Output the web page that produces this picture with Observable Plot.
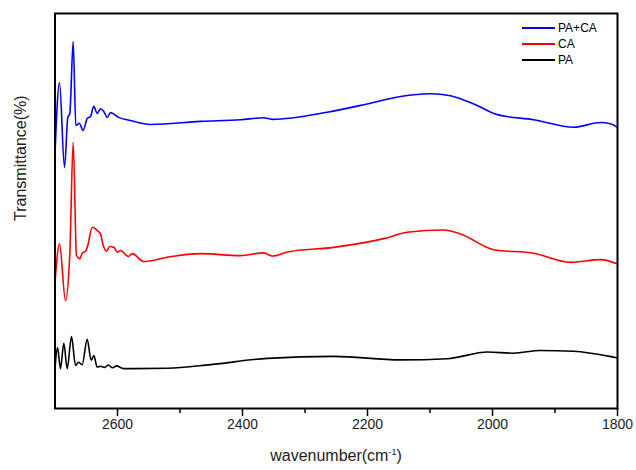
<!DOCTYPE html>
<html>
<head>
<meta charset="utf-8">
<script src="https://cdn.jsdelivr.net/npm/d3@7"></script>
<script src="https://cdn.jsdelivr.net/npm/@observablehq/plot@0.6"></script>
<style>
  body { margin: 0; background: #fff; font-family: "Liberation Sans", Arial, sans-serif; }
  #wrap { position: relative; width: 636px; height: 470px; }
  .legend { position: absolute; left: 522px; top: 20px; font-size: 12px; color: #000; }
  .legend div { display: flex; align-items: center; height: 16px; }
  .legend span.sw { display: inline-block; width: 33px; height: 2px; margin-right: 3px; }
  .xlabel { position: absolute; left: 0; width: 672px; top: 447px; text-align: center; font-size: 16px; color: #222; }
  .xlabel sup { font-size: 9px; }
</style>
</head>
<body>
<div id="wrap"></div>
<script>
// series: wavenumber (cm-1) and transmittance (arbitrary, offset)
const paCaWn = [2700,2692.8,2684.8,2679.5,2676.3,2670.9,2666.7,2661.3,2654.9,2648.5,2643.2,2637.9,2632.5,2627.2,2621.9,2616.5,2611.2,2598.4,2579.2,2547.2,2467.2,2403.2,2366.4,2352.5,2264.5,2200.5,2147.2,2099.2,2067.2,2029.9,1992.5,1933.9,1869.9,1827.2,1811.2,1800];
const paCaT  = [64.8,82.5,61.0,73.7,74.7,92.9,71.6,72.2,70.4,73.4,73.9,76.5,74.7,75.9,75.2,73.7,74.9,73.7,72.9,71.9,72.7,73.1,73.6,73.2,75.0,77.1,79.0,79.7,79.2,77.1,74.4,73.1,71.2,72.4,72.1,71.1];

const caWn = [2700,2692.8,2683.2,2676.3,2670.9,2665.6,2660.3,2656.5,2651.2,2647.5,2640.5,2632.5,2627.2,2622.9,2617.6,2612.3,2605.9,2600.5,2595.2,2582.4,2576.5,2557.9,2520.5,2467.2,2403.2,2365.9,2352.5,2328.5,2253.9,2173.9,2136.5,2077.9,2051.2,1997.9,1933.9,1875.2,1827.2,1800];
const caT  = [31.9,41.7,27.3,39.2,67.4,38.7,37.9,39.3,39.8,41.3,45.9,45.1,44.2,41.3,39.8,41.0,40.8,39.6,40.0,38.5,39.2,37.2,38.3,39.2,38.7,39.4,38.6,39.6,40.8,43.0,44.6,45.2,44.2,40.2,39.3,37.0,37.7,36.6];

const paWn = [2700,2696,2691.2,2685.9,2680.5,2673.6,2667.2,2662.4,2656.5,2648.5,2642.1,2637.9,2632.5,2627.2,2620.8,2614.4,2608,2601.6,2590.4,2520,2451.2,2360,2254.4,2147.2,2072,2008,1966.4,1923.2,1870.4,1806.4,1800];
const paT  = [10.1,15.4,10.1,16.5,10.1,18.2,10.9,11.7,11.1,17.5,12.2,13.4,10.5,10.7,10.4,11.0,10.3,10.8,10.1,10.2,11.1,12.7,13.2,12.3,12.6,14.3,14.0,14.7,14.5,13.0,12.8];

const seriesNames = ["PA+CA", "CA", "PA"];
const seriesColors = ["#0000ff", "#ff0000", "#000000"];
const majorTicks = [2600, 2400, 2200, 2000, 1800];
const minorTicks = [2500, 2300, 2100, 1900];

const rows = [];
[[paCaWn, paCaT, "PA+CA"], [caWn, caT, "CA"], [paWn, paT, "PA"]].forEach(([w, t, name]) => {
  w.forEach((x, i) => rows.push({wn: x, t: t[i], series: name}));
});

const chart = Plot.plot({
  width: 636,
  height: 470,
  marginLeft: 54.5,
  marginRight: 19,
  marginTop: 13,
  marginBottom: 62,
  style: {fontFamily: "Liberation Sans, Arial, sans-serif", fontSize: "14px", color: "#222", background: "#fff"},
  x: {domain: [2700, 1800], label: null},
  y: {domain: [0, 100], axis: null},
  color: {domain: seriesNames, range: seriesColors},
  marks: [
    Plot.axisX(minorTicks, {tickSize: 5, tickFormat: () => "", strokeWidth: 1.5, stroke: "#000"}),
    Plot.axisX(majorTicks, {tickSize: 8, tickPadding: 3, strokeWidth: 1.5, stroke: "#000", fill: "#222", fontSize: 14, tickFormat: d => String(d)}),
    Plot.line(rows, {x: "wn", y: "t", z: "series", stroke: "series", strokeWidth: 1.6, curve: "monotone-x"}),
    Plot.text(["Transmittance(%)"], {frameAnchor: "left", rotate: -90, dx: -34, dy: 10, fontSize: 16, fill: "#222"}),
    Plot.frame({stroke: "#000", strokeWidth: 2})
  ]
});

const wrap = document.getElementById("wrap");
wrap.appendChild(chart);

const leg = document.createElement("div");
leg.className = "legend";
seriesNames.forEach((n, i) => {
  const row = document.createElement("div");
  const sw = document.createElement("span");
  sw.className = "sw";
  sw.style.background = seriesColors[i];
  row.appendChild(sw);
  row.appendChild(document.createTextNode(n));
  leg.appendChild(row);
});
wrap.appendChild(leg);

const xl = document.createElement("div");
xl.className = "xlabel";
xl.innerHTML = "wavenumber(cm<sup>-1</sup>)";
wrap.appendChild(xl);
</script>
</body>
</html>
